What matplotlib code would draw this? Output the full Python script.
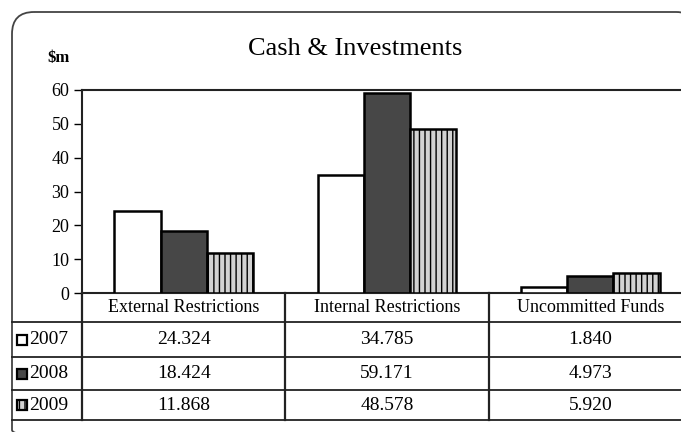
import matplotlib
matplotlib.use("Agg")
import matplotlib.pyplot as plt
from matplotlib.patches import FancyBboxPatch, Rectangle
from matplotlib.lines import Line2D
import numpy as np

categories = ["External Restrictions", "Internal Restrictions", "Uncommitted Funds"]
years = ["2007", "2008", "2009"]
v2007 = [24.324, 34.785, 1.840]
v2008 = [18.424, 59.171, 4.973]
v2009 = [11.868, 48.578, 5.920]
series = [v2007, v2008, v2009]
yticks = [0, 10, 20, 30, 40, 50, 60]

plt.rcParams['font.family'] = ['Liberation Serif', 'DejaVu Serif']
plt.rcParams['hatch.color'] = '#8f8f8f'
plt.rcParams['hatch.linewidth'] = 1.0

W, H = 681, 432
fig = plt.figure(figsize=(W / 100, H / 100), dpi=100)

# overlay in pixel coordinates for frame / table drawing
pix = fig.add_axes([0, 0, 1, 1], zorder=-1)
pix.set_xlim(0, W)
pix.set_ylim(H, 0)
pix.axis('off')

styles = [
    dict(facecolor='white', hatch=None),
    dict(facecolor='#474747', hatch=None),
    dict(facecolor='#d2d2d2', hatch='|||'),
]

ax_left, ax_right, ax_top, ax_bot = 82, 692, 90, 293
ax = fig.add_axes([ax_left / W, 1 - ax_bot / H, (ax_right - ax_left) / W, (ax_bot - ax_top) / H])
ax.patch.set_alpha(0)

x = np.arange(len(categories))
bw = 0.227
for i, (vals, st) in enumerate(zip(series, styles)):
    ax.bar(x + (i - 1) * bw, vals, width=bw, facecolor=st['facecolor'], hatch=st['hatch'],
           edgecolor='black', linewidth=1.8, zorder=3)

ax.set_xlim(-0.5, len(categories) - 0.5)
ax.set_ylim(0, 60)
ax.set_yticks(yticks)
ax.set_yticklabels([str(t) for t in yticks], fontsize=13)
ax.set_xticks([])
ax.tick_params(axis='y', direction='out', length=6, width=1, pad=3)
for s in ['left', 'top', 'bottom', 'right']:
    ax.spines[s].set_linewidth(1.5)
    ax.spines[s].set_color('#222222')

# Frame
frame = FancyBboxPatch((12, 12), 686, 440,
                       boxstyle="round,pad=0,rounding_size=22",
                       facecolor='none', edgecolor='#444444', linewidth=1.3)
pix.add_patch(frame)

# Title and unit label
pix.text(355, 49, "Cash & Investments", ha='center', va='center', fontsize=19)
pix.text(58, 58, "$m", ha='center', va='center', fontsize=12, fontweight='bold')

# Table
row_bounds = [293, 322, 357, 390, 420]
col_w = (ax_right - ax_left) / len(categories)
col_edges = [ax_left + k * col_w for k in range(len(categories) + 1)]
lc = '#222222'
for yb in row_bounds[1:]:
    pix.add_line(Line2D([12, ax_right], [yb, yb], color=lc, linewidth=1.3))
for xe in col_edges[:-1]:
    pix.add_line(Line2D([xe, xe], [293, 420], color=lc, linewidth=1.6))

for j, cat in enumerate(categories):
    cx = (col_edges[j] + col_edges[j + 1]) / 2
    pix.text(cx, (row_bounds[0] + row_bounds[1]) / 2, cat, ha='center', va='center', fontsize=13)
    for i, vals in enumerate(series):
        cy = (row_bounds[i + 1] + row_bounds[i + 2]) / 2
        pix.text(cx, cy, f"{vals[j]:.3f}", ha='center', va='center', fontsize=14)

for i, (yr, st) in enumerate(zip(years, styles)):
    cy = (row_bounds[i + 1] + row_bounds[i + 2]) / 2
    pix.add_patch(Rectangle((17, cy - 5), 10, 10, facecolor=st['facecolor'], hatch=st['hatch'],
                            edgecolor='black', linewidth=1.6))
    pix.text(29, cy, yr, ha='left', va='center', fontsize=14)

fig.savefig("out.png", dpi=100)
